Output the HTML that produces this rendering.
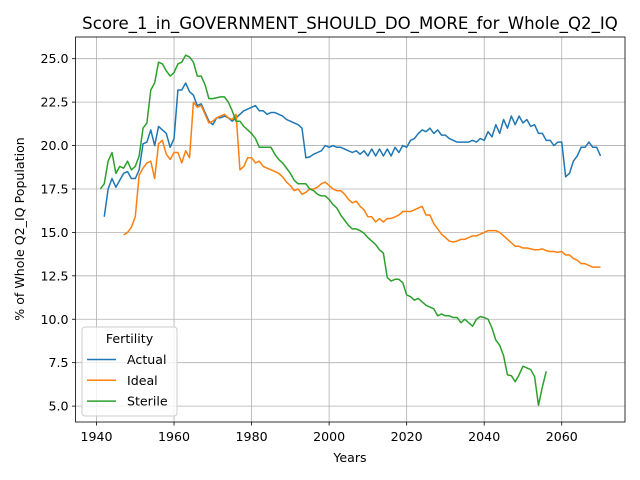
<!DOCTYPE html>
<html><head><meta charset="utf-8"><style>
body{margin:0;background:#fff;}
svg{display:block;font-family:"DejaVu Sans","Liberation Sans",sans-serif;}
</style></head><body>
<svg id="chart" width="640" height="480" viewBox="0 0 640 480">
<rect width="640" height="480" fill="#fff"/>
<text x="350" y="29" font-size="16.6" text-anchor="middle">Score_1_in_GOVERNMENT_SHOULD_DO_MORE_for_Whole_Q2_IQ</text>
<g id="grid"></g><g id="series"></g><g id="axes"></g>
<text x="350" y="462" font-size="12.6" text-anchor="middle">Years</text>
<text transform="translate(24,229) rotate(-90)" font-size="12.6" text-anchor="middle">% of Whole Q2_IQ Population</text>
<g id="legend">
<rect x="82" y="327" width="95" height="89" rx="3" fill="#fff" fill-opacity="0.8" stroke="#ccc"/>
<text x="129.5" y="343" font-size="12.6" text-anchor="middle">Fertility</text>
</g>
</svg>
<script>
const years=[];for(let y=1941;y<=2070;y++)years.push(y);
const actualStart=1942;
const actual=[15.9,17.5,18.1,17.6,18.0,18.4,18.5,18.1,18.1,18.6,20.1,20.2,20.9,20.0,21.1,20.9,20.7,19.9,20.4,23.2,23.2,23.6,23.1,22.9,22.3,22.4,21.9,21.4,21.2,21.6,21.6,21.7,21.6,21.4,21.6,21.8,22.0,22.1,22.2,22.3,22.0,22.0,21.8,21.9,21.9,21.8,21.7,21.5,21.4,21.3,21.2,21.0,19.3,19.35,19.5,19.6,19.7,20.0,19.9,20.0,19.9,19.9,19.8,19.7,19.6,19.7,19.5,19.7,19.4,19.8,19.4,19.8,19.4,19.8,19.4,19.9,19.6,20.0,19.9,20.3,20.4,20.7,20.9,20.8,21.0,20.7,20.9,20.6,20.6,20.4,20.3,20.2,20.2,20.2,20.2,20.3,20.2,20.4,20.3,20.8,20.5,21.2,20.7,21.5,21.0,21.7,21.2,21.7,21.3,21.5,21.1,21.2,20.7,20.7,20.3,20.3,20.0,20.2,20.2,18.2,18.4,19.1,19.4,19.9,19.9,20.2,19.9,19.9,19.4];
const idealStart=1947;
const ideal=[14.85,15.0,15.3,15.9,18.3,18.7,19.0,19.1,18.1,20.1,20.3,19.5,19.2,19.6,19.6,19.0,19.7,19.3,22.5,22.2,22.3,21.8,21.3,21.4,21.6,21.7,21.8,21.6,21.5,21.8,18.6,18.8,19.3,19.3,19.0,19.1,18.8,18.7,18.6,18.5,18.4,18.2,17.9,17.7,17.4,17.5,17.2,17.3,17.5,17.5,17.6,17.8,17.9,17.7,17.5,17.4,17.4,17.2,16.9,16.7,16.8,16.5,16.3,15.9,15.9,15.6,15.8,15.6,15.8,15.8,15.9,16.0,16.2,16.2,16.2,16.3,16.4,16.5,16.0,16.0,15.5,15.2,14.9,14.7,14.5,14.45,14.5,14.6,14.6,14.7,14.8,14.8,14.9,15.0,15.1,15.1,15.1,15.0,14.8,14.6,14.4,14.2,14.2,14.1,14.1,14.05,14.0,14.0,14.05,13.95,13.9,13.9,13.85,13.9,13.7,13.7,13.5,13.4,13.2,13.2,13.1,13.0,13.0,13.0];
const sterileStart=1941;
const sterile=[17.5,17.8,19.1,19.6,18.4,18.8,18.7,19.1,18.6,18.8,19.4,21.0,21.3,23.2,23.6,24.8,24.7,24.3,24.0,24.2,24.7,24.8,25.2,25.1,24.8,24.0,24.0,23.5,22.7,22.7,22.75,22.8,22.8,22.5,22.0,21.4,21.4,21.1,20.9,20.7,20.4,19.9,19.9,19.9,19.9,19.5,19.2,19.0,18.7,18.4,18.0,17.8,17.8,17.8,17.5,17.4,17.2,17.1,17.1,16.9,16.6,16.4,16.0,15.7,15.4,15.2,15.2,15.1,14.95,14.7,14.5,14.3,14.0,13.8,12.4,12.2,12.3,12.3,12.1,11.4,11.3,11.1,11.2,11.0,10.8,10.7,10.6,10.2,10.3,10.2,10.2,10.1,10.1,9.8,10.0,9.8,9.6,10.0,10.15,10.1,10.0,9.5,8.8,8.5,7.9,6.8,6.75,6.4,6.8,7.3,7.2,7.1,6.7,5.05,6.1,7.0];
const xTicks=[1940,1960,1980,2000,2020,2040,2060];
const yTicks=[5.0,7.5,10.0,12.5,15.0,17.5,20.0,22.5,25.0];
const seriesNames=["Actual","Ideal","Sterile"];

const NS="http://www.w3.org/2000/svg";
const L=75.5,R=625,T=37,B=422;
const xS=yr=>96.5+(yr-1940)*3.877;
const yS=v=>58.7+(25-v)*17.37;
function mk(tag,attrs,parent){const e=document.createElementNS(NS,tag);for(const k in attrs)e.setAttribute(k,attrs[k]);parent.appendChild(e);return e;}
const grid=document.getElementById('grid'),axes=document.getElementById('axes'),ser=document.getElementById('series');
xTicks.forEach(t=>{const x=xS(t);
 const g=mk('line',{x1:x,x2:x,y1:T,y2:B,stroke:'#b0b0b0','stroke-width':0.8},grid);
 
 
 mk('line',{x1:x,x2:x,y1:B,y2:B+3.5,stroke:'#000','stroke-width':0.8},axes);
 const tx=mk('text',{x:x,y:B+19,'font-size':12.6,'text-anchor':'middle'},axes);tx.textContent=t;
 
 
});
yTicks.forEach(t=>{const y=yS(t);
 const g=mk('line',{x1:L,x2:R,y1:y,y2:y,stroke:'#b0b0b0','stroke-width':0.8},grid);
 
 
 mk('line',{x1:L-3.5,x2:L,y1:y,y2:y,stroke:'#000','stroke-width':0.8},axes);
 const tx=mk('text',{x:L-7,y:y+4.5,'font-size':12.6,'text-anchor':'end'},axes);tx.textContent=t.toFixed(1);
 
 
});
const frame=mk('rect',{x:L,y:T,width:R-L,height:B-T,fill:'none',stroke:'#000','stroke-width':0.8},axes);


const colors=['#1f77b4','#ff7f0e','#2ca02c'];
[[actual,actualStart],[ideal,idealStart],[sterile,sterileStart]].forEach(([d,s],i)=>{
 const pts=d.map((v,j)=>xS(s+j).toFixed(2)+','+yS(v).toFixed(2)).join(' ');
 const p=mk('polyline',{points:pts,fill:'none',stroke:colors[i],'stroke-width':1.5,'stroke-linejoin':'round'},ser);
 
 
});
const leg=document.getElementById('legend');
seriesNames.forEach((n,i)=>{const y=359.5+i*20.8;
 const l=mk('line',{x1:87,x2:116,y1:y,y2:y,stroke:colors[i],'stroke-width':1.5},leg);
 
 
 const t=mk('text',{x:127,y:y+4.5,'font-size':12.6},leg);t.textContent=n;
 
 
});
</script>
</body></html>
